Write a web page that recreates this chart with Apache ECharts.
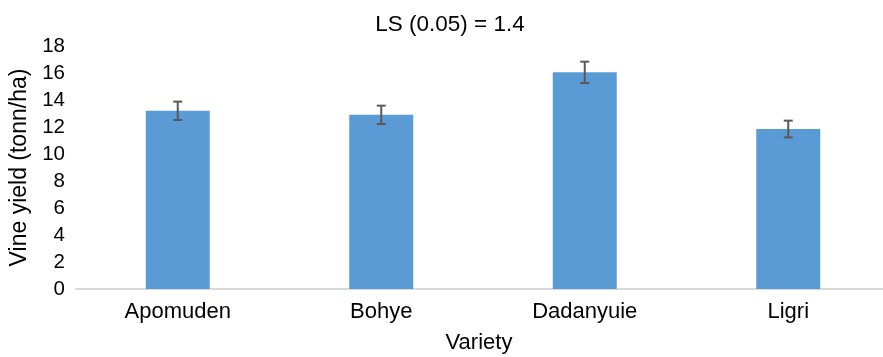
<!DOCTYPE html>
<html>
<head>
<meta charset="utf-8">
<script src="https://cdn.jsdelivr.net/npm/echarts@6/dist/echarts.min.js"></script>
<style>
  html, body { margin: 0; padding: 0; background: #fff; }
  #chart { width: 883px; height: 357px; }
</style>
</head>
<body>
<div id="chart"></div>
<script>
// Vine yield by variety, with standard error bars
const varieties = ['Apomuden', 'Bohye', 'Dadanyuie', 'Ligri'];
const yields = [13.2, 12.9, 16.05, 11.85];
const errors = [0.68, 0.68, 0.79, 0.62];
const yTicks = { min: 0, max: 18, interval: 2 };

const FONT = '"Liberation Sans", Arial, sans-serif';
const chart = echarts.init(document.getElementById('chart'));

const errData = varieties.map((v, i) => [i, yields[i] - errors[i], yields[i] + errors[i]]);

chart.setOption({
  animation: false,
  title: {
    text: 'LS (0.05) = 1.4',
    left: 445, top: 8, textAlign: 'center',
    textStyle: { fontFamily: FONT, fontSize: 22.5, fontWeight: 'normal', color: '#000' }
  },
  grid: { left: 76, top: 46, width: 814, bottom: 68, outerBoundsMode: 'none', containLabel: false },
  xAxis: {
    type: 'category',
    data: varieties,
    name: 'Variety',
    nameLocation: 'middle',
    nameGap: 43,
    nameTextStyle: { fontFamily: FONT, fontSize: 22, color: '#000', padding: [0, 8, 0, 0] },
    axisLine: { lineStyle: { color: '#d9d9d9', width: 2 } },
    axisTick: { show: false },
    axisLabel: { fontFamily: FONT, fontSize: 22, color: '#000', margin: 12 }
  },
  yAxis: {
    type: 'value',
    min: yTicks.min, max: yTicks.max, interval: yTicks.interval,
    name: 'Vine yield (tonn/ha)',
    nameLocation: 'middle',
    nameGap: 40,
    nameTextStyle: { fontFamily: FONT, fontSize: 23, color: '#000' },
    axisLine: { show: false },
    axisTick: { show: false },
    splitLine: { show: false },
    axisLabel: { fontFamily: FONT, fontSize: 20.5, color: '#000', margin: 11 }
  },
  series: [
    {
      type: 'bar',
      data: yields,
      barWidth: 64,
      itemStyle: { color: '#5b9bd5' }
    },
    {
      type: 'custom',
      data: errData,
      z: 10,
      renderItem: function (params, api) {
        const x = api.value(0);
        const lo = api.coord([x, api.value(1)]);
        const hi = api.coord([x, api.value(2)]);
        const cap = 4.5;
        const style = { stroke: '#595959', lineWidth: 2, fill: null };
        return {
          type: 'group',
          children: [
            { type: 'line', shape: { x1: hi[0], y1: hi[1], x2: lo[0], y2: lo[1] }, style: style },
            { type: 'line', shape: { x1: hi[0] - cap, y1: hi[1], x2: hi[0] + cap, y2: hi[1] }, style: style },
            { type: 'line', shape: { x1: lo[0] - cap, y1: lo[1], x2: lo[0] + cap, y2: lo[1] }, style: style }
          ]
        };
      }
    }
  ]
});
</script>
</body>
</html>
